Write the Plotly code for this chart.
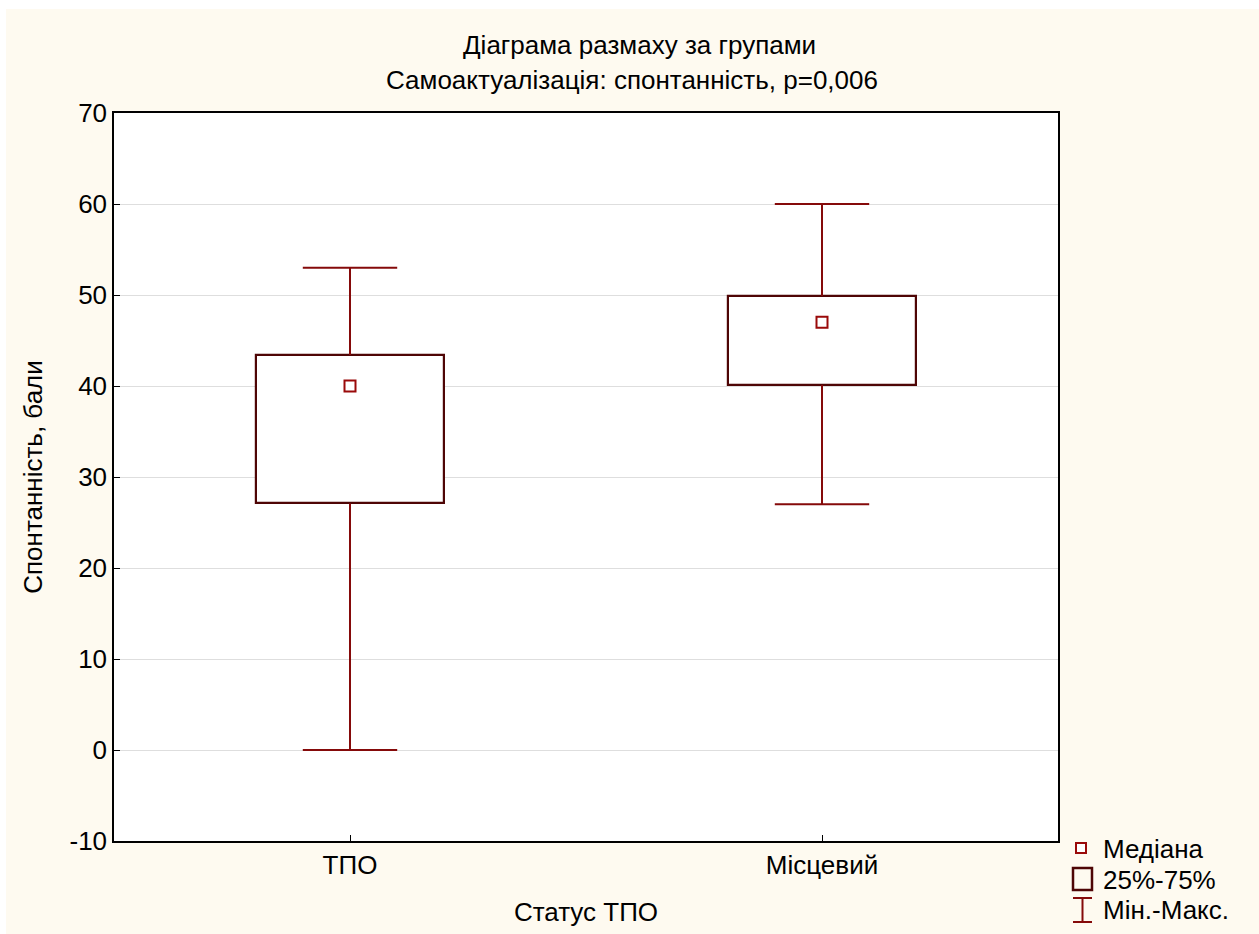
import plotly.graph_objects as go

# Group statistics
groups = ["ТПО", "Місцевий"]
minimum = [0, 27]
q1 = [27.1, 40.1]
median = [40, 47]
q3 = [43.4, 49.9]
maximum = [53, 60]

y_ticks = [-10, 0, 10, 20, 30, 40, 50, 60, 70]

FONT = "Liberation Sans, Arial, sans-serif"
BOX_COLOR = "#4e0505"
WHISKER_COLOR = "#850a0a"
MEDIAN_COLOR = "#9a0a0a"
CREAM = "#fefaf0"
TEXT_SIZE = 26

W, H = 1259, 934
L, R, T, B = 114, 201, 113, 93
PW, PH = W - L - R, H - T - B


def px(x):
    return (x - L) / PW


def py(y):
    return (H - B - y) / PH


pos = list(range(len(groups)))
box_width = 0.4
cap_half = 0.1

fig = go.Figure()

# Interquartile boxes
fig.add_trace(go.Bar(
    x=pos, base=q1, y=[b - a for a, b in zip(q1, q3)], width=box_width,
    marker=dict(color="white", line=dict(color=BOX_COLOR, width=2.2)),
    showlegend=False, hoverinfo="skip",
))

# Whiskers with caps
wx, wy = [], []
for i in pos:
    wx += [i, i, None, i - cap_half, i + cap_half, None,
           i, i, None, i - cap_half, i + cap_half, None]
    wy += [q3[i], maximum[i], None, maximum[i], maximum[i], None,
           q1[i], minimum[i], None, minimum[i], minimum[i], None]
fig.add_trace(go.Scatter(
    x=wx, y=wy, mode="lines", line=dict(color=WHISKER_COLOR, width=2),
    showlegend=False, hoverinfo="skip",
))

# Medians
fig.add_trace(go.Scatter(
    x=pos, y=median, mode="markers",
    marker=dict(symbol="square", size=11, color="white",
                line=dict(color=MEDIAN_COLOR, width=2)),
    showlegend=False,
))

shapes = [
    # white strips along the top and left page edges
    dict(type="rect", xref="paper", yref="paper", x0=px(0), x1=px(W), y0=py(9), y1=py(0),
         fillcolor="white", line=dict(width=0), layer="below"),
    dict(type="rect", xref="paper", yref="paper", x0=px(0), x1=px(6), y0=py(H), y1=py(0),
         fillcolor="white", line=dict(width=0), layer="below"),
    # legend symbols
    dict(type="rect", xref="paper", yref="paper", x0=px(1076), x1=px(1086), y0=py(853), y1=py(843),
         fillcolor="white", line=dict(color=MEDIAN_COLOR, width=2)),
    dict(type="rect", xref="paper", yref="paper", x0=px(1073), x1=px(1092), y0=py(890), y1=py(868),
         fillcolor="rgba(0,0,0,0)", line=dict(color=BOX_COLOR, width=2.5)),
    dict(type="line", xref="paper", yref="paper", x0=px(1082.5), x1=px(1082.5), y0=py(922), y1=py(898),
         line=dict(color=WHISKER_COLOR, width=2)),
    dict(type="line", xref="paper", yref="paper", x0=px(1073), x1=px(1092), y0=py(898), y1=py(898),
         line=dict(color=WHISKER_COLOR, width=2)),
    dict(type="line", xref="paper", yref="paper", x0=px(1073), x1=px(1092), y0=py(922), y1=py(922),
         line=dict(color=WHISKER_COLOR, width=2)),
]

legend_labels = ["Медіана", "25%-75%", "Мін.-Макс."]
legend_y = [849, 880, 910]
annotations = [
    dict(text=t, xref="paper", yref="paper", x=px(1101), y=py(yy), xanchor="left",
         yanchor="middle", showarrow=False, font=dict(size=TEXT_SIZE, color="black", family=FONT))
    for t, yy in zip(legend_labels, legend_y)
]
annotations += [
    dict(text="Діаграма размаху за групами", xref="paper", yref="paper", x=px(639), y=py(45),
         xanchor="center", yanchor="middle", showarrow=False,
         font=dict(size=TEXT_SIZE, color="black", family=FONT)),
    dict(text="Самоактуалізація: спонтанність, p=0,006", xref="paper", yref="paper",
         x=px(632), y=py(80), xanchor="center", yanchor="middle", showarrow=False,
         font=dict(size=TEXT_SIZE, color="black", family=FONT)),
]

fig.update_layout(
    width=W, height=H,
    margin=dict(l=L, r=R, t=T, b=B),
    paper_bgcolor=CREAM, plot_bgcolor="white",
    font=dict(family=FONT, size=TEXT_SIZE, color="black"),
    shapes=shapes, annotations=annotations,
    showlegend=False,
    bargap=0,
)
fig.update_xaxes(
    range=[-0.5, 1.5], tickvals=pos, ticktext=groups,
    tickfont=dict(size=TEXT_SIZE, family=FONT, color="black"),
    ticks="inside", ticklen=6, tickcolor="black", tickwidth=1,
    showline=True, linecolor="black", linewidth=1.5, mirror=True,
    showgrid=False, zeroline=False,
    title=dict(text="Статус ТПО", standoff=24,
               font=dict(size=TEXT_SIZE, family=FONT, color="black")),
)
fig.update_yaxes(
    range=[-10, 70], tickvals=y_ticks, ticktext=[str(v) for v in y_ticks],
    tickfont=dict(size=TEXT_SIZE, family=FONT, color="black"),
    ticks="inside", ticklen=6, tickcolor="black", tickwidth=1,
    showline=True, linecolor="black", linewidth=1.5, mirror=True,
    showgrid=True, gridcolor="#dedede", gridwidth=1, zeroline=False,
    title=dict(text="Спонтанність, бали", standoff=19,
               font=dict(size=TEXT_SIZE, family=FONT, color="black")),
)

fig.write_html("out.html")
